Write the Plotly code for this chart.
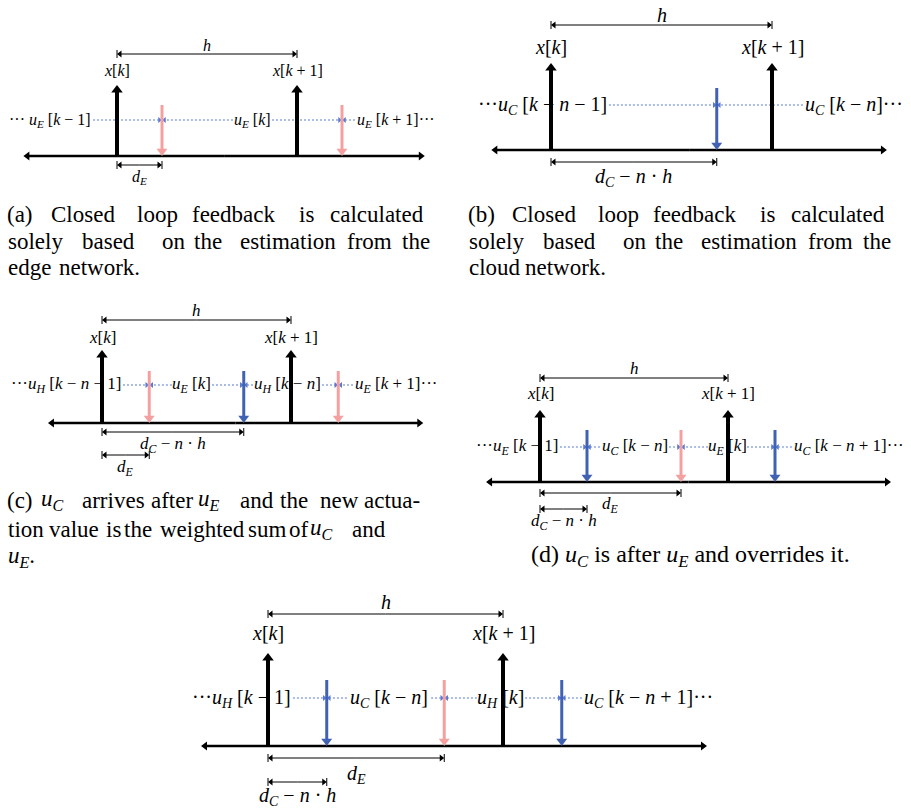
import plotly.graph_objects as go

W, H = 911, 810
BLACK = "#000000"
PINK = "#F4A0A0"
BLUE = "#4161B3"
DOT_BLUE = "#5A7BD2"
FONT = "Liberation Serif, DejaVu Serif, Noto Serif, serif"

# ---------------- data: event times in units of the sampling period h ----------------
# x[k] is sampled at t = 0 and x[k+1] at t = h
sample_times = [0.0, 1.0]
h_period = 1.0
# (a) edge only
a_edge = [0.25, 1.25]
# (b) cloud only
b_cloud = [0.75]
# (c) cloud after edge, weighted sum
c_edge = [0.25, 1.25]
c_cloud = [0.75]
# (d) cloud after edge, overrides
d_cloud = [0.25, 1.25]
d_edge = [0.75]
# (e) hybrid
e_cloud = [0.25, 1.25]
e_edge = [0.75]

# ---------------- text ----------------
def u(sub, arg):
    return f"<i>u</i><sub><i>{sub}</i></sub> [{arg}]"

K = "<i>k</i>"
N = "<i>n</i>"
DOTS = "\u00b7\u00b7\u00b7"
XK = "<i>x</i>[<i>k</i>]"
XK1 = "<i>x</i>[<i>k</i> + 1]"
H_TXT = "<i>h</i>"
D_E = "<i>d</i><sub><i>E</i></sub>"
D_C = "<i>d</i><sub><i>C</i></sub> \u2212 <i>n</i> \u00b7 <i>h</i>"

a_labels = [DOTS + " " + u("E", f"{K} \u2212 1"), u("E", K), u("E", f"{K} + 1") + DOTS]
b_labels = [DOTS + u("C", f"{K} \u2212 {N} \u2212 1"), u("C", f"{K} \u2212 {N}") + DOTS]
c_labels = [DOTS + u("H", f"{K} \u2212 {N} \u2212 1"), u("E", K), u("H", f"{K} \u2212 {N}"),
            u("E", f"{K} + 1") + DOTS]
d_labels = [DOTS + u("E", f"{K} \u2212 1"), u("C", f"{K} \u2212 {N}"), u("E", K),
            u("C", f"{K} \u2212 {N} + 1") + DOTS]
e_labels = [DOTS + u("H", f"{K} \u2212 1"), u("C", f"{K} \u2212 {N}"), u("H", K),
            u("C", f"{K} \u2212 {N} + 1") + DOTS]

UC = "<i>u</i><sub><i>C</i></sub>"
UE = "<i>u</i><sub><i>E</i></sub>"
captions = [
    (214, [("(a)", 5), ("Closed", 49), ("loop", 135), ("feedback", 190), ("is", 297), ("calculated", 328)]),
    (241, [("solely", 6), ("based", 80), ("on", 160), ("the", 192), ("estimation", 238), ("from", 345), ("the", 400)]),
    (267, [("edge", 6), ("network.", 57)]),
    (214, [("(b)", 466), ("Closed", 510), ("loop", 596), ("feedback", 651), ("is", 758), ("calculated", 789)]),
    (241, [("solely", 467), ("based", 541), ("on", 621), ("the", 653), ("estimation", 699), ("from", 806), ("the", 861)]),
    (267, [("cloud", 467), ("network.", 523)]),
    (500, [("(c)", 5), (UC, 39), ("arrives", 80), ("after", 149), (UE, 196), ("and", 238), ("the", 278),
           ("new", 318), ("actua-", 362)]),
    (529, [("tion", 6), ("value", 47), ("is", 104), ("the", 122), ("weighted", 158), ("sum", 246), ("of", 287),
           (UC, 308), ("and", 350)]),
    (557, [(UE + ".", 6)]),
]
caption_d = f"(d) {UC} is after {UE} and overrides it."

# ---------------- layout of each panel (pixels / label anchors) ----------------
panels = [
    dict(x0px=117, hpx=180, axis=(-0.52, 1.71), y_axis=156, y_tip=85, y_arr=105, y_dot=120,
         y_h=54, y_hlab=45, y_xlab=70, fs=16,
         arrivals=[(a_edge, PINK)],
         dims=[(a_edge[0], D_E, 165, 177)],
         labels=list(zip(a_labels, [-0.133, 0.75, 1.322], ["right", "center", "left"])),
         dots=[(-0.133, 0), (0.644, 0), (0.861, 1), (1.322, 1)]),
    dict(x0px=551, hpx=221, axis=(-0.27, 1.52), y_axis=150, y_tip=63, y_arr=88, y_dot=105,
         y_h=25, y_hlab=15, y_xlab=47, fs=20,
         arrivals=[(b_cloud, BLUE)],
         dims=[(b_cloud[0], D_C, 162, 177)],
         labels=list(zip(b_labels, [0.262, 1.140], ["right", "left"])),
         dots=[(0.262, 0), (1.140, 0)]),
    dict(x0px=102, hpx=189, axis=(-0.286, 1.70), y_axis=423, y_tip=350, y_arr=371, y_dot=385,
         y_h=320, y_hlab=310, y_xlab=337, fs=17,
         arrivals=[(c_edge, PINK), (c_cloud, BLUE)],
         dims=[(c_cloud[0], D_C, 432, 445), (c_edge[0], D_E, 455, 468)],
         labels=list(zip(c_labels, [0.111, 0.476, 0.981, 1.328], ["right", "center", "center", "left"])),
         dots=[(0.111, 0), (0.370, 0), (0.582, 1), (0.799, 1), (1.164, 2), (1.328, 2)]),
    dict(x0px=540, hpx=188, axis=(-0.287, 1.867), y_axis=482, y_tip=410, y_arr=430, y_dot=447,
         y_h=378, y_hlab=368, y_xlab=393, fs=17,
         arrivals=[(d_cloud, BLUE), (d_edge, PINK)],
         dims=[(d_edge[0], D_E, 493, 505), (d_cloud[0], D_C, 509, 522)],
         labels=list(zip(d_labels, [0.106, 0.503, 0.997, 1.340], ["right", "center", "center", "left"])),
         dots=[(0.106, 0), (0.319, 0), (0.686, 1), (0.894, 1), (1.101, 2), (1.340, 2)]),
    dict(x0px=268, hpx=235, axis=(-0.285, 1.868), y_axis=746, y_tip=653, y_arr=680, y_dot=698,
         y_h=614, y_hlab=602, y_xlab=633, fs=20,
         arrivals=[(e_cloud, BLUE), (e_edge, PINK)],
         dims=[(e_edge[0], D_E, 758, 774), (e_cloud[0], D_C, 782, 796)],
         labels=list(zip(e_labels, [0.106, 0.515, 0.991, 1.336], ["right", "center", "center", "left"])),
         dots=[(0.106, 0), (0.336, 0), (0.694, 1), (0.889, 1), (1.094, 2), (1.336, 2)]),
]

fig = go.Figure()
annotations = []
shapes = []


def add_arrows(xa, hpx, segs, color, width, head, dash="solid"):
    """segs: list of ((x_tail, y_tail), (x_tip, y_tip)); x in h units, y in px (downwards).
    A triangle marker (tip exactly at the tip point) is drawn as arrowhead."""
    r = head / 2.0
    lx, ly, mx, my, sym = [], [], [], [], []
    for (x0, y0), (x1, y1) in segs:
        if x1 == x0:
            s = -1 if y1 < y0 else 1          # +1 = pointing down
            sym.append("triangle-up" if s < 0 else "triangle-down")
            mx.append(x1)
            my.append(y1 - s * r)
            lx += [x0, x1, None]
            ly += [y0, y1 - s * r * 0.9, None]
        else:
            s = 1 if x1 > x0 else -1
            sym.append("triangle-right" if s > 0 else "triangle-left")
            mx.append(x1 - s * r / hpx)
            my.append(y1)
            lx += [x0, x1 - s * r * 0.9 / hpx, None]
            ly += [y0, y1, None]
    fig.add_trace(go.Scatter(x=lx, y=ly, mode="lines", xaxis=xa, yaxis="y",
                             line=dict(color=color, width=width, dash=dash),
                             hoverinfo="skip", showlegend=False))
    fig.add_trace(go.Scatter(x=mx, y=my, mode="markers", xaxis=xa, yaxis="y",
                             marker=dict(symbol=sym, size=head, color=color, line=dict(width=0)),
                             hoverinfo="skip", showlegend=False))


def text(xa, x, y, s, fs, xanchor="center", color=BLACK):
    return dict(xref=xa, yref="y", x=x, y=y, text=s, showarrow=False, xanchor=xanchor,
                yanchor="middle", font=dict(family=FONT, size=fs, color=color))


for i, P in enumerate(panels):
    xa = "x" if i == 0 else f"x{i + 1}"
    lk = "xaxis" if i == 0 else f"xaxis{i + 1}"
    hpx = P["hpx"] / h_period
    r0 = sample_times[0] - P["x0px"] / hpx
    r1 = sample_times[0] + (W - P["x0px"]) / hpx
    ax_cfg = dict(domain=[0, 1], range=[r0, r1], visible=False, anchor="y", fixedrange=True)
    if i > 0:
        ax_cfg["overlaying"] = "x"
    fig.update_layout({lk: ax_cfg})

    arr_all = sorted(t for times, _ in P["arrivals"] for t in times)
    yd = P["y_dot"]

    # dotted blue lines between labels and arrival events
    add_arrows(xa, hpx, [((t_from, yd), (arr_all[j], yd)) for t_from, j in P["dots"]],
               DOT_BLUE, 1.1, 5, dash="2px,2px")

    # labels on the dotted line
    for s, t, anc in P["labels"]:
        annotations.append(text(xa, t, yd, s, P["fs"], anc))

    # time axis (double headed)
    mid = sum(P["axis"]) / 2
    add_arrows(xa, hpx, [((mid, P["y_axis"]), (P["axis"][0], P["y_axis"])),
                         ((mid, P["y_axis"]), (P["axis"][1], P["y_axis"]))], BLACK, 2.5, 8)

    # arrivals of actuation values
    for times, col in P["arrivals"]:
        add_arrows(xa, hpx, [((t, P["y_arr"]), (t, P["y_axis"])) for t in times], col, 3, 9.5)

    # sampling instants
    add_arrows(xa, hpx, [((t, P["y_axis"]), (t, P["y_tip"])) for t in sample_times], BLACK, 4, 10)
    annotations.append(text(xa, sample_times[0], P["y_xlab"], XK, P["fs"]))
    annotations.append(text(xa, sample_times[1], P["y_xlab"], XK1, P["fs"]))

    # dimension lines: h and delays
    dims = [(h_period, H_TXT, P["y_h"], P["y_hlab"])] + P["dims"]
    segs = []
    for val, lab, ydim, ylab in dims:
        a, b = sample_times[0], sample_times[0] + val
        m = (a + b) / 2
        segs += [((m, ydim), (a, ydim)), ((m, ydim), (b, ydim))]
        for t in (a, b):
            shapes.append(dict(type="line", xref=xa, yref="y", x0=t, x1=t, y0=ydim - 4, y1=ydim + 4,
                               line=dict(color=BLACK, width=1)))
        annotations.append(text(xa, m, ylab, lab, P["fs"]))
    add_arrows(xa, hpx, segs, BLACK, 1, 6)

# captions
CAP_FS = 23
for y, words in captions:
    for w, xp in words:
        annotations.append(dict(xref="paper", yref="y", x=xp / W, y=y, text=w, showarrow=False,
                                xanchor="left", yanchor="middle",
                                font=dict(family=FONT, size=CAP_FS, color=BLACK)))
annotations.append(dict(xref="paper", yref="y", x=690 / W, y=556, text=caption_d, showarrow=False,
                        xanchor="center", yanchor="middle", font=dict(family=FONT, size=24, color=BLACK)))

fig.update_layout(
    width=W, height=H,
    margin=dict(l=0, r=0, t=0, b=0),
    paper_bgcolor="white", plot_bgcolor="white",
    yaxis=dict(domain=[0, 1], range=[H, 0], visible=False, fixedrange=True),
    annotations=annotations, shapes=shapes,
    showlegend=False,
)

fig.write_html("out.html", config={"displayModeBar": False})
